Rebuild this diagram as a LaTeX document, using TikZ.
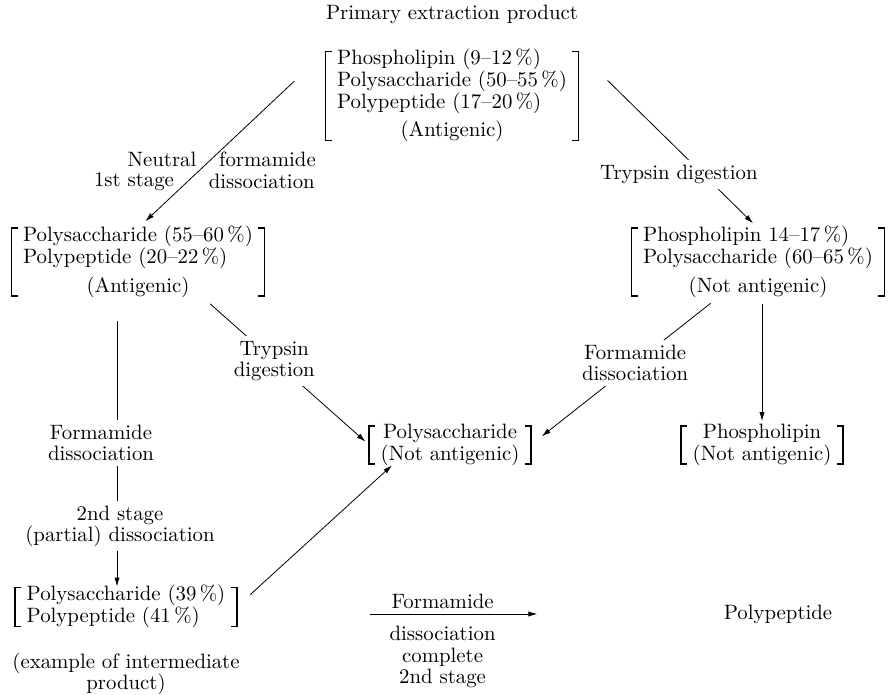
\documentclass[tikz,border=0pt]{standalone}
\usetikzlibrary{arrows.meta,positioning,calc}

\begin{document}
\begin{tikzpicture}[
  x=0.5pt, y=-0.5pt,
  every node/.style={font=\fontsize{10.4}{10.6}\selectfont, inner sep=0pt},
  fraction/.style={inner xsep=5.5pt, inner ysep=-1.5pt},
  cut/.style={fill=white, inner sep=2.5pt, align=center},
  note/.style={align=center},
  bracket/.style={line width=0.8pt},
  flow/.style={-{Latex[length=4.5pt,width=2.6pt]}, thin}]

  \useasboundingbox (0,0) rectangle (890,695);

  % Fractions, placed at coordinates
  \node (title) at (452,14) {Primary extraction product};

  \node[fraction] (primary) at (452,96) {\begin{tabular}{@{}l@{}}
      Phospholipin (9--12\,\%)\\
      Polysaccharide (50--55\,\%)\\
      Polypeptide (17--20\,\%)\\[3pt]
      \multicolumn{1}{@{}c@{}}{(Antigenic)}
    \end{tabular}};

  \node[fraction] (stageone) at (138,262) {\begin{tabular}{@{}l@{}}
      Polysaccharide (55--60\,\%)\\
      Polypeptide (20--22\,\%)\\[3.5pt]
      \multicolumn{1}{@{}c@{}}{(Antigenic)}
    \end{tabular}};

  \node[fraction] (digested) at (758,262) {\begin{tabular}{@{}l@{}}
      Phospholipin 14--17\,\%)\\
      Polysaccharide (60--65\,\%)\\[3.5pt]
      \multicolumn{1}{@{}c@{}}{(Not antigenic)}
    \end{tabular}};

  \node[fraction] (polysacc) at (450,445) {\begin{tabular}{@{}c@{}}
      Polysaccharide\\ (Not antigenic)
    \end{tabular}};

  \node[fraction] (phospho) at (762,445) {\begin{tabular}{@{}c@{}}
      Phospholipin\\ (Not antigenic)
    \end{tabular}};

  \node[fraction] (intermed) at (126,607) {\begin{tabular}{@{}l@{}}
      Polysaccharide (39\,\%)\\
      Polypeptide (41\,\%)
    \end{tabular}};

  \node[note, below=13pt of intermed] (example) {(example of intermediate\\product)};
  \node (polypep) at (778,614) {Polypeptide};

  % Square brackets round each fraction
  \foreach \b in {primary,stageone,digested,polysacc,phospho,intermed}{
    \draw[bracket] ([xshift=3pt]\b.north west) -| (\b.south west) -- ++(3pt,0);
    \draw[bracket] ([xshift=-3pt]\b.north east) -| (\b.south east) -- ++(-3pt,0);
  }

  % Arrows between the fractions, with their labels
  \coordinate (lft) at ([xshift=-4.5pt]intermed.north);

  \draw[flow, shorten <=21.5pt, shorten >=5pt] (primary.north west) -- (stageone.north)
    node[pos=.612, anchor=east, xshift=-7pt] {Neutral}
    node[pos=.612, anchor=west, xshift=4pt] {formamide}
    node[pos=.737, anchor=east, xshift=-6.5pt] {1st stage}
    node[pos=.737, anchor=west, xshift=10.5pt] {dissociation};
  \draw[flow, shorten <=20.5pt, shorten >=3.5pt] (primary.north east) -- (digested.north)
    node[cut, pos=.697, xshift=-12.3pt] {Trypsin digestion};
  \draw[flow, shorten <=6pt, shorten >=2.5pt] ($(stageone.south)!.5!(stageone.south east)$) -- (polysacc.west)
    node[cut, pos=.435] {Trypsin\\digestion};
  \draw[flow, shorten <=6pt, shorten >=7pt] ($(digested.south)!.3!(digested.south west)$) -- (polysacc.east)
    node[cut, pos=.449] {Formamide\\dissociation};
  \draw[flow, shorten <=4pt, shorten >=2.5pt] (digested.south -| phospho.north) -- (phospho.north);
  \draw[flow, shorten <=12.8pt, shorten >=0.5pt] (stageone.south -| lft) -- (lft)
    node[cut, pos=.504, xshift=-8pt] {Formamide\\dissociation}
    node[cut, pos=.789, xshift=1.5pt] {2nd stage\\(partial) dissociation};
  \draw[flow, shorten <=9pt, shorten >=1pt] (intermed.east) -- ($(polysacc.south west)!.3!(polysacc.south)$);
  \draw[flow, shorten <=66.5pt, shorten >=93pt] (intermed.east |- polypep) -- (polypep.west)
    node[pos=.423, above=2.5pt] {Formamide}
    node[pos=.423, below=6pt, align=center] {dissociation\\complete\\2nd stage};

\end{tikzpicture}
\end{document}
